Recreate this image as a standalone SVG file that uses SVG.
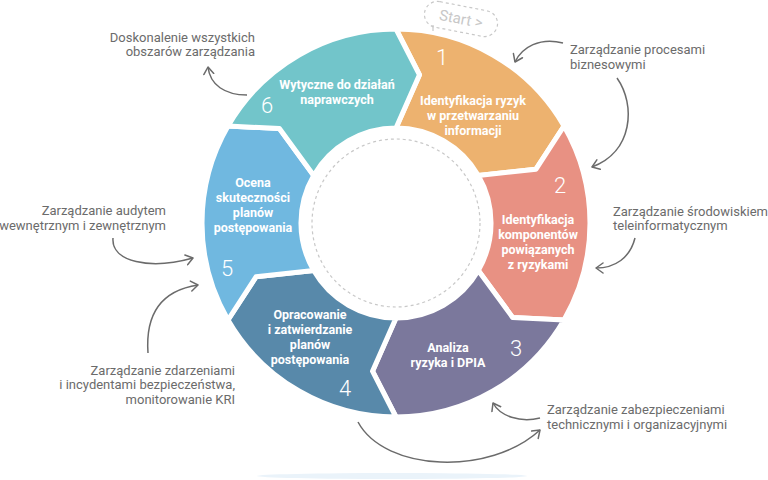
<svg xmlns="http://www.w3.org/2000/svg" width="768" height="480" viewBox="0 0 768 480">
<defs>
<style>
.seg{stroke:#fff;stroke-width:5;stroke-linejoin:round}
.num{font-family:Roboto,"Liberation Sans",sans-serif;font-size:22px;font-weight:300;fill:#fff;text-anchor:middle}
.lbl{font-family:Roboto,"Liberation Sans",sans-serif;font-size:12.5px;font-weight:700;fill:#fff;text-anchor:middle}
.note{font-family:Roboto,"Liberation Sans",sans-serif;font-size:13px;fill:#6b6b6b}
.conn{fill:none;stroke:#6b6b6b;stroke-width:1.5;marker-end:url(#ah)}
</style>
<marker id="ah" markerWidth="12" markerHeight="12" refX="8" refY="6" orient="auto" markerUnits="userSpaceOnUse">
<path d="M1,1 L8,6 L1,11" fill="none" stroke="#6b6b6b" stroke-width="1.5" stroke-linecap="round" stroke-linejoin="round"/>
</marker>
</defs>
<rect width="768" height="480" fill="#fff"/>
<ellipse cx="392" cy="476" rx="135" ry="3" fill="#eaf3fa"/>

<g id="seg1">
<path class="seg" fill="#EDB26F" d="M396,29 A194,194 0 0 1 564,126 L536,169.2 L478.3,175.5 A95,95 0 0 0 396,128 L419.5,74.8 Z"/>
<text class="num" x="442" y="65">1</text>
<text class="lbl"><tspan x="473" y="105">Identyfikacja ryzyk</tspan><tspan x="473" y="120">w przetwarzaniu</tspan><tspan x="473" y="135">informacji</tspan></text>
</g>
<g id="seg2">
<path class="seg" fill="#E89183" d="M564,126 A194,194 0 0 1 564,320 L512.6,317.4 L478.3,270.5 A95,95 0 0 0 478.3,175.5 L536,169.2 Z"/>
<text class="num" x="560" y="193">2</text>
<text class="lbl"><tspan x="538" y="224">Identyfikacja</tspan><tspan x="538" y="239">komponentów</tspan><tspan x="538" y="254">powiązanych</tspan><tspan x="538" y="269">z ryzykami</tspan></text>
</g>
<g id="seg3">
<path class="seg" fill="#7B789C" d="M564,320 A194,194 0 0 1 396,417 L372.5,371.2 L396,318 A95,95 0 0 0 478.3,270.5 L512.6,317.4 Z"/>
<text class="num" x="516" y="356">3</text>
<text class="lbl"><tspan x="448" y="352">Analiza</tspan><tspan x="448" y="367">ryzyka i DPIA</tspan></text>
</g>
<g id="seg4">
<path class="seg" fill="#5889AA" d="M396,417 A194,194 0 0 1 228,320 L256,276.8 L313.7,270.5 A95,95 0 0 0 396,318 L372.5,371.2 Z"/>
<text class="num" x="345" y="396">4</text>
<text class="lbl"><tspan x="310" y="319">Opracowanie</tspan><tspan x="310" y="334">i zatwierdzanie</tspan><tspan x="310" y="349">planów</tspan><tspan x="310" y="364">postępowania</tspan></text>
</g>
<g id="seg5">
<path class="seg" fill="#70B8E0" d="M228,320 A194,194 0 0 1 228,126 L279.4,128.6 L313.7,175.5 A95,95 0 0 0 313.7,270.5 L256,276.8 Z"/>
<text class="num" x="227" y="276">5</text>
<text class="lbl"><tspan x="253" y="187">Ocena</tspan><tspan x="253" y="202">skuteczności</tspan><tspan x="253" y="217">planów</tspan><tspan x="253" y="232">postępowania</tspan></text>
</g>
<g id="seg6">
<path class="seg" fill="#72C5CA" d="M228,126 A194,194 0 0 1 396,29 L419.5,74.8 L396,128 A95,95 0 0 0 313.7,175.5 L279.4,128.6 Z"/>
<text class="num" x="267" y="113">6</text>
<text class="lbl"><tspan x="337" y="89">Wytyczne do działań</tspan><tspan x="337" y="104">naprawczych</tspan></text>
</g>

<g id="center">
<circle cx="396" cy="223" r="84" fill="none" stroke="#c8c8c8" stroke-width="1.2" stroke-dasharray="3 3"/>
</g>

<g id="start">
<line x1="433" y1="25" x2="433" y2="31" stroke="#c8c8c8" stroke-width="1.2"/>
<g transform="translate(461,19) rotate(11)">
<rect x="-37" y="-13" width="74" height="26" rx="13" fill="none" stroke="#c8c8c8" stroke-width="1.2" stroke-dasharray="3 3"/>
<text x="0" y="5" text-anchor="middle" font-family="Roboto,'Liberation Sans',sans-serif" font-size="15" fill="#c8c8c8">Start &gt;</text>
</g>
</g>

<g id="note-doskonalenie">
<text class="note" text-anchor="end"><tspan x="255" y="42">Doskonalenie wszystkich</tspan><tspan x="255" y="56">obszarów zarządzania</tspan></text>
</g>
<g id="note-procesy">
<text class="note"><tspan x="570" y="54">Zarządzanie procesami</tspan><tspan x="570" y="69">biznesowymi</tspan></text>
</g>
<g id="note-srodowisko">
<text class="note"><tspan x="613" y="216">Zarządzanie środowiskiem</tspan><tspan x="613" y="230">teleinformatycznym</tspan></text>
</g>
<g id="note-zabezpieczenia">
<text class="note"><tspan x="547" y="414">Zarządzanie zabezpieczeniami</tspan><tspan x="547" y="429">technicznymi i organizacyjnymi</tspan></text>
</g>
<g id="note-audyt">
<text class="note" text-anchor="end" font-size="12.2"><tspan x="166" y="215">Zarządzanie audytem</tspan><tspan x="166" y="230">wewnętrznym i zewnętrznym</tspan></text>
</g>
<g id="note-zdarzenia">
<text class="note" text-anchor="end"><tspan x="235" y="375">Zarządzanie zdarzeniami</tspan><tspan x="235" y="389">i incydentami bezpieczeństwa,</tspan><tspan x="235" y="404">monitorowanie KRI</tspan></text>
</g>

<g id="connectors">
<path class="conn" d="M247,95 C225,95 210,85 208,67"/>
<path class="conn" d="M563,43 C540,37 522,47 515,62"/>
<path class="conn" d="M617,78 C636,105 633,152 592,167"/>
<path class="conn" d="M635,238 C630,258 615,268 596,268"/>
<path class="conn" d="M540,418 C520,423 500,416 493,403"/>
<path class="conn" d="M358,422 C385,472 490,476 540,430"/>
<path class="conn" d="M113,238 C111,262 150,270 193,258"/>
<path class="conn" d="M148,353 C145,310 165,290 198,285"/>
</g>
</svg>
